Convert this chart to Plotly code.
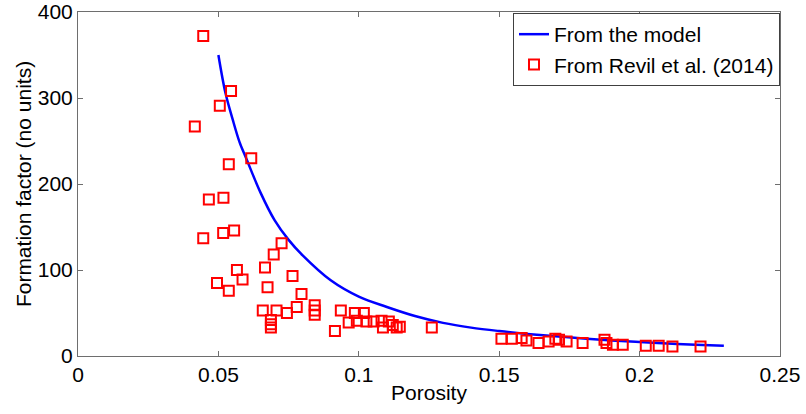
import plotly.graph_objects as go

# Model curve
model_porosity = [0.05, 0.0525, 0.055, 0.0575, 0.06, 0.065, 0.07, 0.075, 0.08, 0.09,
                  0.10, 0.11, 0.12, 0.13, 0.14, 0.15, 0.16, 0.17, 0.18, 0.19,
                  0.20, 0.21, 0.22, 0.23]
model_F = [350, 306, 276, 249, 229, 190, 158, 135, 117, 88,
           69, 57, 46.5, 38.5, 33, 29, 25.7, 23, 20.3, 18,
           16.2, 14.6, 13, 11.8]

# Revil et al. (2014) data
revil_porosity = [0.0446, 0.0416, 0.0505, 0.0545, 0.0537, 0.0617, 0.0466, 0.0518, 0.0446, 0.0517,
                  0.0556, 0.0725, 0.0697, 0.0666, 0.0566, 0.0586, 0.0495, 0.0537, 0.0764, 0.0675,
                  0.0796, 0.0658, 0.0707, 0.0744, 0.0779, 0.0687, 0.0687, 0.0687, 0.0843, 0.0843,
                  0.0843, 0.0936, 0.0915, 0.0964, 0.0986, 0.0993, 0.1018, 0.1027, 0.1053, 0.1081,
                  0.1086, 0.1107, 0.1121, 0.1135, 0.1146, 0.126,
                  0.1508, 0.1545, 0.158, 0.1597, 0.164, 0.1676, 0.170, 0.1713, 0.174, 0.1797,
                  0.1875, 0.1882, 0.1905, 0.194, 0.2022, 0.2068, 0.2117, 0.2217]
revil_F = [372, 267, 291, 308, 223, 230, 182, 184, 137, 143,
           146, 131, 118, 103, 100, 89, 85, 76, 93, 80,
           72, 53, 53, 50, 57, 42, 37, 33, 59, 53,
           48, 53, 29, 39, 50, 41, 50, 40, 40, 41,
           33, 40, 36, 33, 34, 33,
           20, 20, 21, 18, 15, 17, 20, 19, 17, 15,
           19, 15, 13, 13, 12, 12, 11, 11]

x_ticks = [0, 0.05, 0.1, 0.15, 0.2, 0.25]
x_ticklabels = ["0", "0.05", "0.1", "0.15", "0.2", "0.25"]
y_ticks = [0, 100, 200, 300, 400]

font_family = "Liberation Sans, Arial, sans-serif"
FS = 21

fig = go.Figure()
fig.add_trace(go.Scatter(
    x=model_porosity, y=model_F, mode="lines", name="From the model",
    line=dict(color="#0000ff", width=2.5, shape="spline"),
))
fig.add_trace(go.Scatter(
    x=revil_porosity, y=revil_F, mode="markers", name="From Revil et al. (2014)",
    marker=dict(symbol="square-open", size=10, color="#ff0000", line=dict(width=2, color="#ff0000")),
))

axis_common = dict(
    showline=True, linecolor="#6e6e6e", linewidth=1, mirror="ticks",
    ticks="inside", ticklen=5, tickcolor="#6e6e6e", showgrid=False, zeroline=False,
    tickfont=dict(family=font_family, size=FS, color="black"),
    automargin=False, ticklabeloverflow="allow",
)

fig.update_layout(
    width=806, height=414,
    margin=dict(l=78, r=26, t=12, b=58),
    paper_bgcolor="white", plot_bgcolor="white",
    font=dict(family=font_family, size=FS, color="black"),
    xaxis=dict(range=[0, 0.25], tickvals=x_ticks, ticktext=x_ticklabels, ticklabelstandoff=0,
               title=dict(text="Porosity", font=dict(size=FS), standoff=0), **axis_common),
    yaxis=dict(range=[0, 400], tickvals=y_ticks, ticklabelstandoff=0,
               title=dict(text="Formation factor (no units)", font=dict(size=FS), standoff=0), **axis_common),
    legend=dict(x=1, xanchor="right", y=0.997, yanchor="top",
                bgcolor="white", bordercolor="#404040", borderwidth=1,
                font=dict(family=font_family, size=FS, color="black"),
                tracegroupgap=0, itemwidth=30),
    showlegend=True,
)

fig.write_html("out.html", config={"displayModeBar": False},
               post_script="document.body.style.margin='0';document.body.style.padding='0';document.body.style.overflow='hidden';")
